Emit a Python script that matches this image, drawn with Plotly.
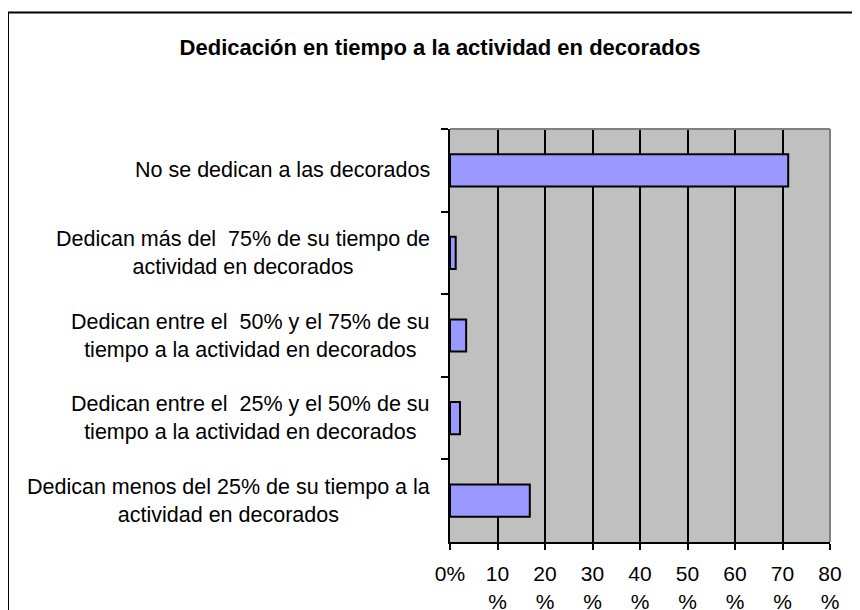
import plotly.graph_objects as go

categories = [
    "No se dedican a las decorados",
    "Dedican más del  75% de su tiempo de<br>actividad en decorados",
    "Dedican entre el  50% y el 75% de su<br>tiempo a la actividad en decorados",
    "Dedican entre el  25% y el 50% de su<br>tiempo a la actividad en decorados",
    "Dedican menos del 25% de su tiempo a la<br>actividad en decorados",
]
values = [71.2, 1.2, 3.4, 2.1, 16.8]
tick_vals = [0, 10, 20, 30, 40, 50, 60, 70, 80]
tick_text = ["0%", "10<br>%", "20<br>%", "30<br>%", "40<br>%", "50<br>%", "60<br>%", "70<br>%", "80<br>%"]
title_text = "Dedicación en tiempo a la actividad en decorados"

FONT = "Liberation Sans, Arial, sans-serif"

fig = go.Figure()
fig.add_trace(go.Bar(
    x=values, y=categories, orientation="h",
    marker=dict(color="#9999FF", line=dict(color="black", width=2)),
    hoverinfo="x+y",
))

# the page body has an 8px default margin; work in screen pixels and offset
OFF = 8
W, H = 860 - OFF, 610 - OFF
L, R, T, B = 450 - OFF, 30, 129 - OFF, 68
pw, ph = W - L - R, H - T - B

def px_x(p):  # screen x -> paper
    return (p - OFF - L) / pw

def px_y(p):  # screen y -> paper
    return (H - B - (p - OFF)) / ph

fig.update_layout(
    template="none",
    width=W, height=H,
    margin=dict(l=L, r=R, t=T, b=B, pad=0, autoexpand=False),
    paper_bgcolor="white",
    plot_bgcolor="#C0C0C0",
    showlegend=False,
    bargap=0.61,
    font=dict(family=FONT, size=21.5, color="black"),
    title=dict(text="<b>" + title_text + "</b>", x=(440 - OFF) / W, xref="container",
               y=1 - (47 - OFF) / H, yref="container", xanchor="center", yanchor="middle",
               font=dict(family=FONT, size=22, color="black")),
    xaxis=dict(range=[0, 80], tickvals=tick_vals, ticktext=tick_text, automargin=False,
               showgrid=True, gridcolor="black", gridwidth=2, zeroline=False,
               showline=True, linecolor="black", linewidth=2,
               ticks="outside", ticklen=6, tickwidth=2, tickcolor="black",
               ticklabelstandoff=6,
               tickfont=dict(family=FONT, size=21, color="black"), fixedrange=True),
    yaxis=dict(categoryorder="array", categoryarray=categories, autorange="reversed",
               automargin=False,
               showgrid=False, zeroline=False, showline=True, linecolor="black", linewidth=2,
               ticks="outside", ticklen=7, tickwidth=2, tickcolor="black",
               tickson="boundaries", showticklabels=False, fixedrange=True),
)

for c in categories:
    fig.add_annotation(x=0, xref="paper", y=c, yref="y", text=c, showarrow=False,
                       xanchor="right", yanchor="middle", align="center", xshift=-18,
                       font=dict(family=FONT, size=21.5, color="black"))

# plot-area top and right border (gray)
fig.add_shape(type="line", xref="paper", yref="paper", x0=0, x1=1, y0=1, y1=1,
              line=dict(color="#808080", width=2), layer="above")
fig.add_shape(type="line", xref="paper", yref="paper", x0=1, x1=1, y0=0, y1=1,
              line=dict(color="#808080", width=2), layer="above")
# outer chart border
fig.add_shape(type="rect", xref="paper", yref="paper",
              x0=px_x(8), x1=px_x(880), y0=px_y(640), y1=px_y(12.5),
              line=dict(color="black", width=2), fillcolor="rgba(0,0,0,0)", layer="above")

fig.write_html("out.html")
